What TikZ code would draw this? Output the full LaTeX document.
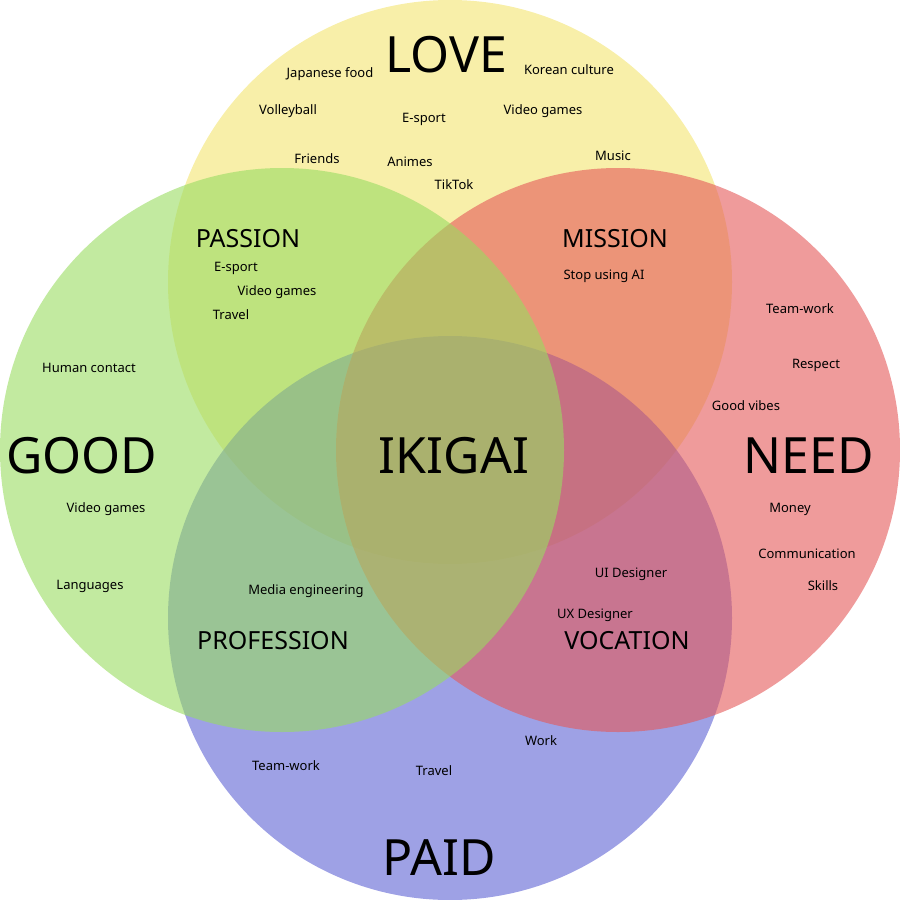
\documentclass[tikz,border=0pt]{standalone}
\usepackage{fontspec}
\setmainfont{Noto Sans}
\definecolor{cY}{RGB}{243,228,112}
\definecolor{cB}{RGB}{93,98,212}
\definecolor{cR}{RGB}{228,88,88}
\definecolor{cG}{RGB}{153,220,97}
\tikzset{
  circ/.style={fill opacity=0.6},
  small/.style={anchor=base, inner sep=0pt, font=\fontsize{13}{15}\selectfont},
  mid/.style={anchor=base, inner sep=0pt, font=\fontsize{25}{29}\selectfont},
  big/.style={anchor=base, inner sep=0pt, font=\fontsize{50}{56}\selectfont},
}
\begin{document}
\begin{tikzpicture}[x=1pt,y=-1pt]
\useasboundingbox (0,0) rectangle (900,900);
\fill[circ, cY] (450,282) circle (282pt);
\fill[circ, cB] (450,618) circle (282pt);
\fill[circ, cR] (618,450) circle (282pt);
\fill[circ, cG] (282,450) circle (282pt);

% big labels
\node[big] (love) at (446,72) {LOVE};
\node[big] (good) at (82,473) {GOOD};
\node[big] (need) at (809,473) {NEED};
\node[big] (paid) at (439,875) {PAID};
\node[big] (ikigai) at (454,473) {IKIGAI};

% mid labels
\node[mid] (passion) at (248,247) {PASSION};
\node[mid] (mission) at (615,247) {MISSION};
\node[mid] (profession) at (273,649) {PROFESSION};
\node[mid] (vocation) at (627,649) {VOCATION};

% love items
\node[small] (l1) at (330,77) {Japanese food};
\node[small] (l2) at (569,74) {Korean culture};
\node[small] (l3) at (288,114) {Volleyball};
\node[small] (l4) at (424,122) {E-sport};
\node[small] (l5) at (543,114) {Video games};
\node[small] (l6) at (317,163) {Friends};
\node[small] (l7) at (410,166) {Animes};
\node[small] (l8) at (454,189) {TikTok};
\node[small] (l9) at (613,160) {Music};

% passion items
\node[small] (p1) at (236,271) {E-sport};
\node[small] (p2) at (277,295) {Video games};
\node[small] (p3) at (231,319) {Travel};

% good items
\node[small] (g1) at (89,372) {Human contact};
\node[small] (g2) at (106,512) {Video games};
\node[small] (g3) at (90,589) {Languages};

% mission / need
\node[small] (m1) at (604,279) {Stop using AI};
\node[small] (n1) at (800,313) {Team-work};
\node[small] (n2) at (816,368) {Respect};
\node[small] (n3) at (746,410) {Good vibes};
\node[small] (n4) at (790,512) {Money};
\node[small] (n5) at (807,558) {Communication};
\node[small] (n6) at (823,590) {Skills};

% profession / vocation
\node[small] (pr1) at (306,594) {Media engineering};
\node[small] (v1) at (631,577) {UI Designer};
\node[small] (v2) at (595,618) {UX Designer};

% paid
\node[small] (pa1) at (286,770) {Team-work};
\node[small] (pa2) at (434,775) {Travel};
\node[small] (pa3) at (541,745) {Work};
\end{tikzpicture}
\end{document}
